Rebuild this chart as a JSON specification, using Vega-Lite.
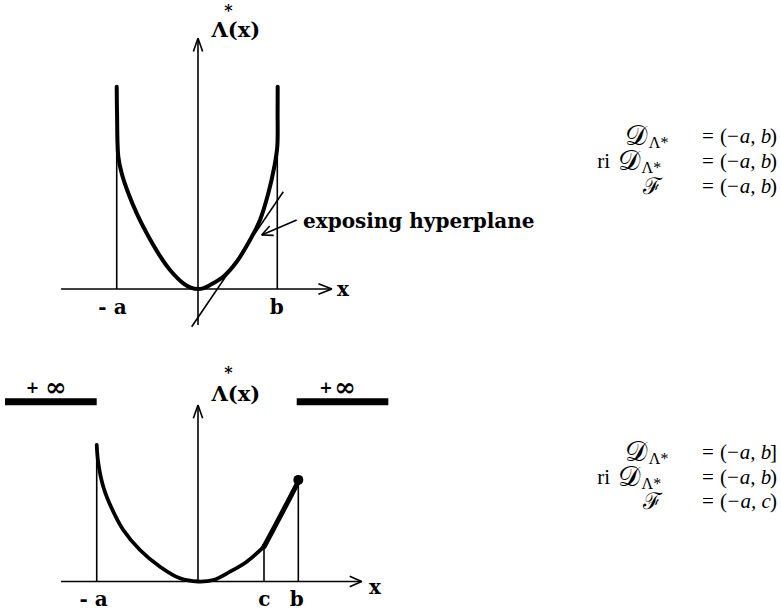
{
  "$schema": "https://vega.github.io/schema/vega-lite/v6.json",
  "padding": 0,
  "spacing": 0,
  "background": "white",
  "config": {"view": {"stroke": null}},
  "datasets": {
    "top_rules": [
      {"x": -1.7125, "y": 0, "x2": 1.675, "y2": 0},
      {"x": 1.675, "y": 0, "x2": 1.505, "y2": 0.067},
      {"x": 1.675, "y": 0, "x2": 1.505, "y2": -0.067},
      {"x": 0, "y": -0.45, "x2": 0, "y2": 3.134},
      {"x": 0, "y": 3.134, "x2": -0.058, "y2": 2.968},
      {"x": 0, "y": 3.134, "x2": 0.058, "y2": 2.968},
      {"x": -1.016, "y": 0, "x2": -1.016, "y2": 2.529},
      {"x": 0.991, "y": 0, "x2": 0.991, "y2": 2.529},
      {"x": -0.079, "y": -0.471, "x2": 1.066, "y2": 1.216},
      {"x": 1.234, "y": 0.8625, "x2": 0.796, "y2": 0.675},
      {"x": 0.796, "y": 0.675, "x2": 0.896, "y2": 0.787},
      {"x": 0.796, "y": 0.675, "x2": 0.946, "y2": 0.67}
    ],
    "top_curve": [
      {"i": 1, "x": -1.016, "y": 2.529},
      {"i": 2, "x": -1.012, "y": 2.2},
      {"i": 3, "x": -0.996, "y": 1.654},
      {"i": 4, "x": -0.954, "y": 1.446},
      {"i": 5, "x": -0.871, "y": 1.196},
      {"i": 6, "x": -0.766, "y": 0.946},
      {"i": 7, "x": -0.641, "y": 0.696},
      {"i": 8, "x": -0.496, "y": 0.446},
      {"i": 9, "x": -0.35, "y": 0.2375},
      {"i": 10, "x": -0.184, "y": 0.071},
      {"i": 11, "x": -0.09, "y": 0.018},
      {"i": 12, "x": 0, "y": 0},
      {"i": 13, "x": 0.07, "y": 0.012},
      {"i": 14, "x": 0.15, "y": 0.05},
      {"i": 15, "x": 0.316, "y": 0.154},
      {"i": 16, "x": 0.484, "y": 0.341},
      {"i": 17, "x": 0.65, "y": 0.6125},
      {"i": 18, "x": 0.775, "y": 0.8625},
      {"i": 19, "x": 0.879, "y": 1.196},
      {"i": 20, "x": 0.954, "y": 1.529},
      {"i": 21, "x": 0.991, "y": 1.779},
      {"i": 22, "x": 0.995, "y": 2.2},
      {"i": 23, "x": 0.996, "y": 2.529}
    ],
    "top_labels": [
      {"x": 1.8125, "y": -0.0125, "label": "x"},
      {"x": -1.069, "y": -0.241, "label": "- a"},
      {"x": 0.984, "y": -0.241, "label": "b"}
    ],
    "top_lambda": [{"x": 0.4725, "y": 3.225, "label": "Λ(x)"}],
    "top_star": [{"x": 0.379, "y": 3.4125, "label": "*"}],
    "top_note": [{"x": 1.3125, "y": 0.8375, "label": "exposing hyperplane"}],
    "top_math_eq": [
      {"x": 6.375, "y": 1.9, "label": "="},
      {"x": 6.375, "y": 1.5875, "label": "="},
      {"x": 6.375, "y": 1.275, "label": "="}
    ],
    "top_math_open": [
      {"x": 6.525, "y": 1.9, "label": "("},
      {"x": 6.525, "y": 1.5875, "label": "("},
      {"x": 6.525, "y": 1.275, "label": "("}
    ],
    "top_math_inner": [
      {"x": 6.881, "y": 1.9, "label": "−a, b"},
      {"x": 6.881, "y": 1.5875, "label": "−a, b"},
      {"x": 6.881, "y": 1.275, "label": "−a, b"}
    ],
    "top_math_close": [
      {"x": 7.2375, "y": 1.9, "label": ")"},
      {"x": 7.2375, "y": 1.5875, "label": ")"},
      {"x": 7.2375, "y": 1.275, "label": ")"}
    ],
    "top_math_d": [
      {"x": 5.6125, "y": 1.9, "label": "𝒟"},
      {"x": 5.525, "y": 1.5875, "label": "𝒟"}
    ],
    "top_math_f": [{"x": 5.796, "y": 1.275, "label": "ℱ"}],
    "top_math_ri": [{"x": 5.15, "y": 1.5875, "label": "ri"}],
    "top_math_sub": [
      {"x": 5.635, "y": 1.9, "label": "Λ*"},
      {"x": 5.545, "y": 1.5875, "label": "Λ*"}
    ],
    "bot_rules": [
      {"x": -1.7125, "y": 0, "x2": 2.046, "y2": 0},
      {"x": 2.046, "y": 0, "x2": 1.896, "y2": 0.065},
      {"x": 2.046, "y": 0, "x2": 1.896, "y2": -0.065},
      {"x": 0, "y": 0, "x2": 0, "y2": 2.206},
      {"x": 0, "y": 2.206, "x2": -0.058, "y2": 2.04},
      {"x": 0, "y": 2.206, "x2": 0.058, "y2": 2.04},
      {"x": -1.266, "y": 0, "x2": -1.266, "y2": 1.706},
      {"x": 0.825, "y": 0, "x2": 0.825, "y2": 0.435},
      {"x": 1.254, "y": 0, "x2": 1.254, "y2": 1.2475}
    ],
    "bot_bars": [
      {"x": -2.4125, "y": 2.2475, "x2": -1.266, "y2": 2.2475},
      {"x": 1.234, "y": 2.2475, "x2": 2.379, "y2": 2.2475}
    ],
    "bot_curve": [
      {"i": 1, "x": -1.266, "y": 1.706},
      {"i": 2, "x": -1.246, "y": 1.478},
      {"i": 3, "x": -1.184, "y": 1.185},
      {"i": 4, "x": -1.079, "y": 0.915},
      {"i": 5, "x": -0.934, "y": 0.644},
      {"i": 6, "x": -0.725, "y": 0.394},
      {"i": 7, "x": -0.475, "y": 0.185},
      {"i": 8, "x": -0.225, "y": 0.04},
      {"i": 9, "x": 0, "y": 0},
      {"i": 10, "x": 0.191, "y": 0.019},
      {"i": 11, "x": 0.4, "y": 0.1225},
      {"i": 12, "x": 0.609, "y": 0.2475},
      {"i": 13, "x": 0.825, "y": 0.435}
    ],
    "bot_curve2": [
      {"i": 1, "x": 0.825, "y": 0.435},
      {"i": 2, "x": 1.025, "y": 0.81},
      {"i": 3, "x": 1.254, "y": 1.2475}
    ],
    "bot_dot_small": [{"x": 0.825, "y": 0.44}],
    "bot_dot_big": [{"x": 1.254, "y": 1.27}],
    "bot_labels": [
      {"x": 2.2125, "y": -0.081, "label": "x"},
      {"x": -1.306, "y": -0.231, "label": "- a"},
      {"x": 0.829, "y": -0.231, "label": "c"},
      {"x": 1.234, "y": -0.231, "label": "b"}
    ],
    "bot_plus": [
      {"x": -2.069, "y": 2.415, "label": "+"},
      {"x": 1.6, "y": 2.415, "label": "+"}
    ],
    "bot_inf": [
      {"x": -1.777, "y": 2.415, "label": "∞"},
      {"x": 1.8375, "y": 2.415, "label": "∞"}
    ],
    "bot_lambda": [{"x": 0.4725, "y": 2.331, "label": "Λ(x)"}],
    "bot_star": [{"x": 0.379, "y": 2.549, "label": "*"}],
    "bot_math_eq": [
      {"x": 6.375, "y": 1.6025, "label": "="},
      {"x": 6.375, "y": 1.29, "label": "="},
      {"x": 6.375, "y": 0.9975, "label": "="}
    ],
    "bot_math_open": [
      {"x": 6.525, "y": 1.6025, "label": "("},
      {"x": 6.525, "y": 1.29, "label": "("},
      {"x": 6.525, "y": 0.9975, "label": "("}
    ],
    "bot_math_inner": [
      {"x": 6.881, "y": 1.6025, "label": "−a, b"},
      {"x": 6.881, "y": 1.29, "label": "−a, b"},
      {"x": 6.881, "y": 0.9975, "label": "−a, c"}
    ],
    "bot_math_close": [
      {"x": 7.2375, "y": 1.6025, "label": "]"},
      {"x": 7.2375, "y": 1.29, "label": ")"},
      {"x": 7.2375, "y": 0.9975, "label": ")"}
    ],
    "bot_math_d": [
      {"x": 5.6125, "y": 1.6025, "label": "𝒟"},
      {"x": 5.525, "y": 1.29, "label": "𝒟"}
    ],
    "bot_math_f": [{"x": 5.796, "y": 0.9975, "label": "ℱ"}],
    "bot_math_ri": [{"x": 5.15, "y": 1.29, "label": "ri"}],
    "bot_math_sub": [
      {"x": 5.635, "y": 1.6025, "label": "Λ*"},
      {"x": 5.545, "y": 1.29, "label": "Λ*"}
    ]
  },
  "vconcat": [
    {
      "width": 781,
      "height": 335,
      "layer": [
        {
          "data": {"name": "top_rules"},
          "mark": {"type": "rule", "strokeWidth": 1.6, "color": "black"},
          "encoding": {
            "x": {"field": "x", "type": "quantitative", "scale": {"domain": [-2.475, 7.2875], "nice": false, "zero": false}, "axis": null},
            "y": {"field": "y", "type": "quantitative", "scale": {"domain": [-0.575, 3.6125], "nice": false, "zero": false}, "axis": null},
            "x2": {"field": "x2"},
            "y2": {"field": "y2"}
          }
        },
        {
          "data": {"name": "top_curve"},
          "mark": {"type": "line", "strokeWidth": 4, "color": "black", "interpolate": "catmull-rom", "strokeCap": "round"},
          "encoding": {
            "x": {"field": "x", "type": "quantitative", "scale": {"domain": [-2.475, 7.2875], "nice": false, "zero": false}, "axis": null},
            "y": {"field": "y", "type": "quantitative", "scale": {"domain": [-0.575, 3.6125], "nice": false, "zero": false}, "axis": null},
            "order": {"field": "i"}
          }
        },
        {
          "data": {"name": "top_labels"},
          "mark": {"type": "text", "font": "DejaVu Serif", "fontWeight": "bold", "fontSize": 20, "align": "center", "baseline": "middle", "color": "black"},
          "encoding": {
            "x": {"field": "x", "type": "quantitative", "scale": {"domain": [-2.475, 7.2875], "nice": false, "zero": false}, "axis": null},
            "y": {"field": "y", "type": "quantitative", "scale": {"domain": [-0.575, 3.6125], "nice": false, "zero": false}, "axis": null},
            "text": {"field": "label"}
          }
        },
        {
          "data": {"name": "top_lambda"},
          "mark": {"type": "text", "font": "DejaVu Serif", "fontWeight": "bold", "fontSize": 21, "align": "center", "baseline": "middle", "color": "black"},
          "encoding": {
            "x": {"field": "x", "type": "quantitative", "scale": {"domain": [-2.475, 7.2875], "nice": false, "zero": false}, "axis": null},
            "y": {"field": "y", "type": "quantitative", "scale": {"domain": [-0.575, 3.6125], "nice": false, "zero": false}, "axis": null},
            "text": {"field": "label"}
          }
        },
        {
          "data": {"name": "top_star"},
          "mark": {"type": "text", "font": "DejaVu Serif", "fontWeight": "bold", "fontSize": 16, "align": "center", "baseline": "alphabetic", "color": "black"},
          "encoding": {
            "x": {"field": "x", "type": "quantitative", "scale": {"domain": [-2.475, 7.2875], "nice": false, "zero": false}, "axis": null},
            "y": {"field": "y", "type": "quantitative", "scale": {"domain": [-0.575, 3.6125], "nice": false, "zero": false}, "axis": null},
            "text": {"field": "label"}
          }
        },
        {
          "data": {"name": "top_note"},
          "mark": {"type": "text", "font": "DejaVu Serif", "fontWeight": "bold", "fontSize": 20, "align": "left", "baseline": "middle", "color": "black"},
          "encoding": {
            "x": {"field": "x", "type": "quantitative", "scale": {"domain": [-2.475, 7.2875], "nice": false, "zero": false}, "axis": null},
            "y": {"field": "y", "type": "quantitative", "scale": {"domain": [-0.575, 3.6125], "nice": false, "zero": false}, "axis": null},
            "text": {"field": "label"}
          }
        },
        {
          "data": {"name": "top_math_eq"},
          "mark": {"type": "text", "font": "Liberation Serif", "fontSize": 21, "align": "center", "baseline": "middle", "color": "black"},
          "encoding": {
            "x": {"field": "x", "type": "quantitative", "scale": {"domain": [-2.475, 7.2875], "nice": false, "zero": false}, "axis": null},
            "y": {"field": "y", "type": "quantitative", "scale": {"domain": [-0.575, 3.6125], "nice": false, "zero": false}, "axis": null},
            "text": {"field": "label"}
          }
        },
        {
          "data": {"name": "top_math_open"},
          "mark": {"type": "text", "font": "Liberation Serif", "fontSize": 21, "align": "left", "baseline": "middle", "color": "black"},
          "encoding": {
            "x": {"field": "x", "type": "quantitative", "scale": {"domain": [-2.475, 7.2875], "nice": false, "zero": false}, "axis": null},
            "y": {"field": "y", "type": "quantitative", "scale": {"domain": [-0.575, 3.6125], "nice": false, "zero": false}, "axis": null},
            "text": {"field": "label"}
          }
        },
        {
          "data": {"name": "top_math_inner"},
          "mark": {"type": "text", "font": "Liberation Serif", "fontStyle": "italic", "fontSize": 21, "align": "center", "baseline": "middle", "color": "black"},
          "encoding": {
            "x": {"field": "x", "type": "quantitative", "scale": {"domain": [-2.475, 7.2875], "nice": false, "zero": false}, "axis": null},
            "y": {"field": "y", "type": "quantitative", "scale": {"domain": [-0.575, 3.6125], "nice": false, "zero": false}, "axis": null},
            "text": {"field": "label"}
          }
        },
        {
          "data": {"name": "top_math_close"},
          "mark": {"type": "text", "font": "Liberation Serif", "fontSize": 21, "align": "right", "baseline": "middle", "color": "black"},
          "encoding": {
            "x": {"field": "x", "type": "quantitative", "scale": {"domain": [-2.475, 7.2875], "nice": false, "zero": false}, "axis": null},
            "y": {"field": "y", "type": "quantitative", "scale": {"domain": [-0.575, 3.6125], "nice": false, "zero": false}, "axis": null},
            "text": {"field": "label"}
          }
        },
        {
          "data": {"name": "top_math_d"},
          "mark": {"type": "text", "font": "Liberation Serif", "fontSize": 28, "align": "right", "baseline": "middle", "color": "black"},
          "encoding": {
            "x": {"field": "x", "type": "quantitative", "scale": {"domain": [-2.475, 7.2875], "nice": false, "zero": false}, "axis": null},
            "y": {"field": "y", "type": "quantitative", "scale": {"domain": [-0.575, 3.6125], "nice": false, "zero": false}, "axis": null},
            "text": {"field": "label"}
          }
        },
        {
          "data": {"name": "top_math_f"},
          "mark": {"type": "text", "font": "Liberation Serif", "fontSize": 23, "align": "right", "baseline": "middle", "color": "black"},
          "encoding": {
            "x": {"field": "x", "type": "quantitative", "scale": {"domain": [-2.475, 7.2875], "nice": false, "zero": false}, "axis": null},
            "y": {"field": "y", "type": "quantitative", "scale": {"domain": [-0.575, 3.6125], "nice": false, "zero": false}, "axis": null},
            "text": {"field": "label"}
          }
        },
        {
          "data": {"name": "top_math_ri"},
          "mark": {"type": "text", "font": "Liberation Serif", "fontSize": 21, "align": "right", "baseline": "middle", "color": "black"},
          "encoding": {
            "x": {"field": "x", "type": "quantitative", "scale": {"domain": [-2.475, 7.2875], "nice": false, "zero": false}, "axis": null},
            "y": {"field": "y", "type": "quantitative", "scale": {"domain": [-0.575, 3.6125], "nice": false, "zero": false}, "axis": null},
            "text": {"field": "label"}
          }
        },
        {
          "data": {"name": "top_math_sub"},
          "mark": {"type": "text", "font": "Liberation Serif", "fontSize": 16, "align": "left", "baseline": "middle", "dy": 6, "color": "black"},
          "encoding": {
            "x": {"field": "x", "type": "quantitative", "scale": {"domain": [-2.475, 7.2875], "nice": false, "zero": false}, "axis": null},
            "y": {"field": "y", "type": "quantitative", "scale": {"domain": [-0.575, 3.6125], "nice": false, "zero": false}, "axis": null},
            "text": {"field": "label"}
          }
        }
      ]
    },
    {
      "width": 781,
      "height": 277,
      "layer": [
        {
          "data": {"name": "bot_rules"},
          "mark": {"type": "rule", "strokeWidth": 1.6, "color": "black"},
          "encoding": {
            "x": {"field": "x", "type": "quantitative", "scale": {"domain": [-2.475, 7.2875], "nice": false, "zero": false}, "axis": null},
            "y": {"field": "y", "type": "quantitative", "scale": {"domain": [-0.38125, 3.08125], "nice": false, "zero": false}, "axis": null},
            "x2": {"field": "x2"},
            "y2": {"field": "y2"}
          }
        },
        {
          "data": {"name": "bot_bars"},
          "mark": {"type": "rule", "strokeWidth": 7, "color": "black", "strokeCap": "butt"},
          "encoding": {
            "x": {"field": "x", "type": "quantitative", "scale": {"domain": [-2.475, 7.2875], "nice": false, "zero": false}, "axis": null},
            "y": {"field": "y", "type": "quantitative", "scale": {"domain": [-0.38125, 3.08125], "nice": false, "zero": false}, "axis": null},
            "x2": {"field": "x2"},
            "y2": {"field": "y2"}
          }
        },
        {
          "data": {"name": "bot_curve"},
          "mark": {"type": "line", "strokeWidth": 3.8, "color": "black", "interpolate": "catmull-rom", "strokeCap": "round"},
          "encoding": {
            "x": {"field": "x", "type": "quantitative", "scale": {"domain": [-2.475, 7.2875], "nice": false, "zero": false}, "axis": null},
            "y": {"field": "y", "type": "quantitative", "scale": {"domain": [-0.38125, 3.08125], "nice": false, "zero": false}, "axis": null},
            "order": {"field": "i"}
          }
        },
        {
          "data": {"name": "bot_curve2"},
          "mark": {"type": "line", "strokeWidth": 5, "color": "black", "interpolate": "catmull-rom", "strokeCap": "round"},
          "encoding": {
            "x": {"field": "x", "type": "quantitative", "scale": {"domain": [-2.475, 7.2875], "nice": false, "zero": false}, "axis": null},
            "y": {"field": "y", "type": "quantitative", "scale": {"domain": [-0.38125, 3.08125], "nice": false, "zero": false}, "axis": null},
            "order": {"field": "i"}
          }
        },
        {
          "data": {"name": "bot_dot_small"},
          "mark": {"type": "circle", "size": 22, "color": "black", "opacity": 1},
          "encoding": {
            "x": {"field": "x", "type": "quantitative", "scale": {"domain": [-2.475, 7.2875], "nice": false, "zero": false}, "axis": null},
            "y": {"field": "y", "type": "quantitative", "scale": {"domain": [-0.38125, 3.08125], "nice": false, "zero": false}, "axis": null}
          }
        },
        {
          "data": {"name": "bot_dot_big"},
          "mark": {"type": "circle", "size": 100, "color": "black", "opacity": 1},
          "encoding": {
            "x": {"field": "x", "type": "quantitative", "scale": {"domain": [-2.475, 7.2875], "nice": false, "zero": false}, "axis": null},
            "y": {"field": "y", "type": "quantitative", "scale": {"domain": [-0.38125, 3.08125], "nice": false, "zero": false}, "axis": null}
          }
        },
        {
          "data": {"name": "bot_labels"},
          "mark": {"type": "text", "font": "DejaVu Serif", "fontWeight": "bold", "fontSize": 20, "align": "center", "baseline": "middle", "color": "black"},
          "encoding": {
            "x": {"field": "x", "type": "quantitative", "scale": {"domain": [-2.475, 7.2875], "nice": false, "zero": false}, "axis": null},
            "y": {"field": "y", "type": "quantitative", "scale": {"domain": [-0.38125, 3.08125], "nice": false, "zero": false}, "axis": null},
            "text": {"field": "label"}
          }
        },
        {
          "data": {"name": "bot_plus"},
          "mark": {"type": "text", "font": "DejaVu Serif", "fontWeight": "bold", "fontSize": 16, "align": "center", "baseline": "middle", "color": "black"},
          "encoding": {
            "x": {"field": "x", "type": "quantitative", "scale": {"domain": [-2.475, 7.2875], "nice": false, "zero": false}, "axis": null},
            "y": {"field": "y", "type": "quantitative", "scale": {"domain": [-0.38125, 3.08125], "nice": false, "zero": false}, "axis": null},
            "text": {"field": "label"}
          }
        },
        {
          "data": {"name": "bot_inf"},
          "mark": {"type": "text", "font": "DejaVu Serif", "fontWeight": "bold", "fontSize": 26, "align": "center", "baseline": "middle", "color": "black"},
          "encoding": {
            "x": {"field": "x", "type": "quantitative", "scale": {"domain": [-2.475, 7.2875], "nice": false, "zero": false}, "axis": null},
            "y": {"field": "y", "type": "quantitative", "scale": {"domain": [-0.38125, 3.08125], "nice": false, "zero": false}, "axis": null},
            "text": {"field": "label"}
          }
        },
        {
          "data": {"name": "bot_lambda"},
          "mark": {"type": "text", "font": "DejaVu Serif", "fontWeight": "bold", "fontSize": 21, "align": "center", "baseline": "middle", "color": "black"},
          "encoding": {
            "x": {"field": "x", "type": "quantitative", "scale": {"domain": [-2.475, 7.2875], "nice": false, "zero": false}, "axis": null},
            "y": {"field": "y", "type": "quantitative", "scale": {"domain": [-0.38125, 3.08125], "nice": false, "zero": false}, "axis": null},
            "text": {"field": "label"}
          }
        },
        {
          "data": {"name": "bot_star"},
          "mark": {"type": "text", "font": "DejaVu Serif", "fontWeight": "bold", "fontSize": 16, "align": "center", "baseline": "alphabetic", "color": "black"},
          "encoding": {
            "x": {"field": "x", "type": "quantitative", "scale": {"domain": [-2.475, 7.2875], "nice": false, "zero": false}, "axis": null},
            "y": {"field": "y", "type": "quantitative", "scale": {"domain": [-0.38125, 3.08125], "nice": false, "zero": false}, "axis": null},
            "text": {"field": "label"}
          }
        },
        {
          "data": {"name": "bot_math_eq"},
          "mark": {"type": "text", "font": "Liberation Serif", "fontSize": 21, "align": "center", "baseline": "middle", "color": "black"},
          "encoding": {
            "x": {"field": "x", "type": "quantitative", "scale": {"domain": [-2.475, 7.2875], "nice": false, "zero": false}, "axis": null},
            "y": {"field": "y", "type": "quantitative", "scale": {"domain": [-0.38125, 3.08125], "nice": false, "zero": false}, "axis": null},
            "text": {"field": "label"}
          }
        },
        {
          "data": {"name": "bot_math_open"},
          "mark": {"type": "text", "font": "Liberation Serif", "fontSize": 21, "align": "left", "baseline": "middle", "color": "black"},
          "encoding": {
            "x": {"field": "x", "type": "quantitative", "scale": {"domain": [-2.475, 7.2875], "nice": false, "zero": false}, "axis": null},
            "y": {"field": "y", "type": "quantitative", "scale": {"domain": [-0.38125, 3.08125], "nice": false, "zero": false}, "axis": null},
            "text": {"field": "label"}
          }
        },
        {
          "data": {"name": "bot_math_inner"},
          "mark": {"type": "text", "font": "Liberation Serif", "fontStyle": "italic", "fontSize": 21, "align": "center", "baseline": "middle", "color": "black"},
          "encoding": {
            "x": {"field": "x", "type": "quantitative", "scale": {"domain": [-2.475, 7.2875], "nice": false, "zero": false}, "axis": null},
            "y": {"field": "y", "type": "quantitative", "scale": {"domain": [-0.38125, 3.08125], "nice": false, "zero": false}, "axis": null},
            "text": {"field": "label"}
          }
        },
        {
          "data": {"name": "bot_math_close"},
          "mark": {"type": "text", "font": "Liberation Serif", "fontSize": 21, "align": "right", "baseline": "middle", "color": "black"},
          "encoding": {
            "x": {"field": "x", "type": "quantitative", "scale": {"domain": [-2.475, 7.2875], "nice": false, "zero": false}, "axis": null},
            "y": {"field": "y", "type": "quantitative", "scale": {"domain": [-0.38125, 3.08125], "nice": false, "zero": false}, "axis": null},
            "text": {"field": "label"}
          }
        },
        {
          "data": {"name": "bot_math_d"},
          "mark": {"type": "text", "font": "Liberation Serif", "fontSize": 28, "align": "right", "baseline": "middle", "color": "black"},
          "encoding": {
            "x": {"field": "x", "type": "quantitative", "scale": {"domain": [-2.475, 7.2875], "nice": false, "zero": false}, "axis": null},
            "y": {"field": "y", "type": "quantitative", "scale": {"domain": [-0.38125, 3.08125], "nice": false, "zero": false}, "axis": null},
            "text": {"field": "label"}
          }
        },
        {
          "data": {"name": "bot_math_f"},
          "mark": {"type": "text", "font": "Liberation Serif", "fontSize": 23, "align": "right", "baseline": "middle", "color": "black"},
          "encoding": {
            "x": {"field": "x", "type": "quantitative", "scale": {"domain": [-2.475, 7.2875], "nice": false, "zero": false}, "axis": null},
            "y": {"field": "y", "type": "quantitative", "scale": {"domain": [-0.38125, 3.08125], "nice": false, "zero": false}, "axis": null},
            "text": {"field": "label"}
          }
        },
        {
          "data": {"name": "bot_math_ri"},
          "mark": {"type": "text", "font": "Liberation Serif", "fontSize": 21, "align": "right", "baseline": "middle", "color": "black"},
          "encoding": {
            "x": {"field": "x", "type": "quantitative", "scale": {"domain": [-2.475, 7.2875], "nice": false, "zero": false}, "axis": null},
            "y": {"field": "y", "type": "quantitative", "scale": {"domain": [-0.38125, 3.08125], "nice": false, "zero": false}, "axis": null},
            "text": {"field": "label"}
          }
        },
        {
          "data": {"name": "bot_math_sub"},
          "mark": {"type": "text", "font": "Liberation Serif", "fontSize": 16, "align": "left", "baseline": "middle", "dy": 6, "color": "black"},
          "encoding": {
            "x": {"field": "x", "type": "quantitative", "scale": {"domain": [-2.475, 7.2875], "nice": false, "zero": false}, "axis": null},
            "y": {"field": "y", "type": "quantitative", "scale": {"domain": [-0.38125, 3.08125], "nice": false, "zero": false}, "axis": null},
            "text": {"field": "label"}
          }
        }
      ]
    }
  ]
}
